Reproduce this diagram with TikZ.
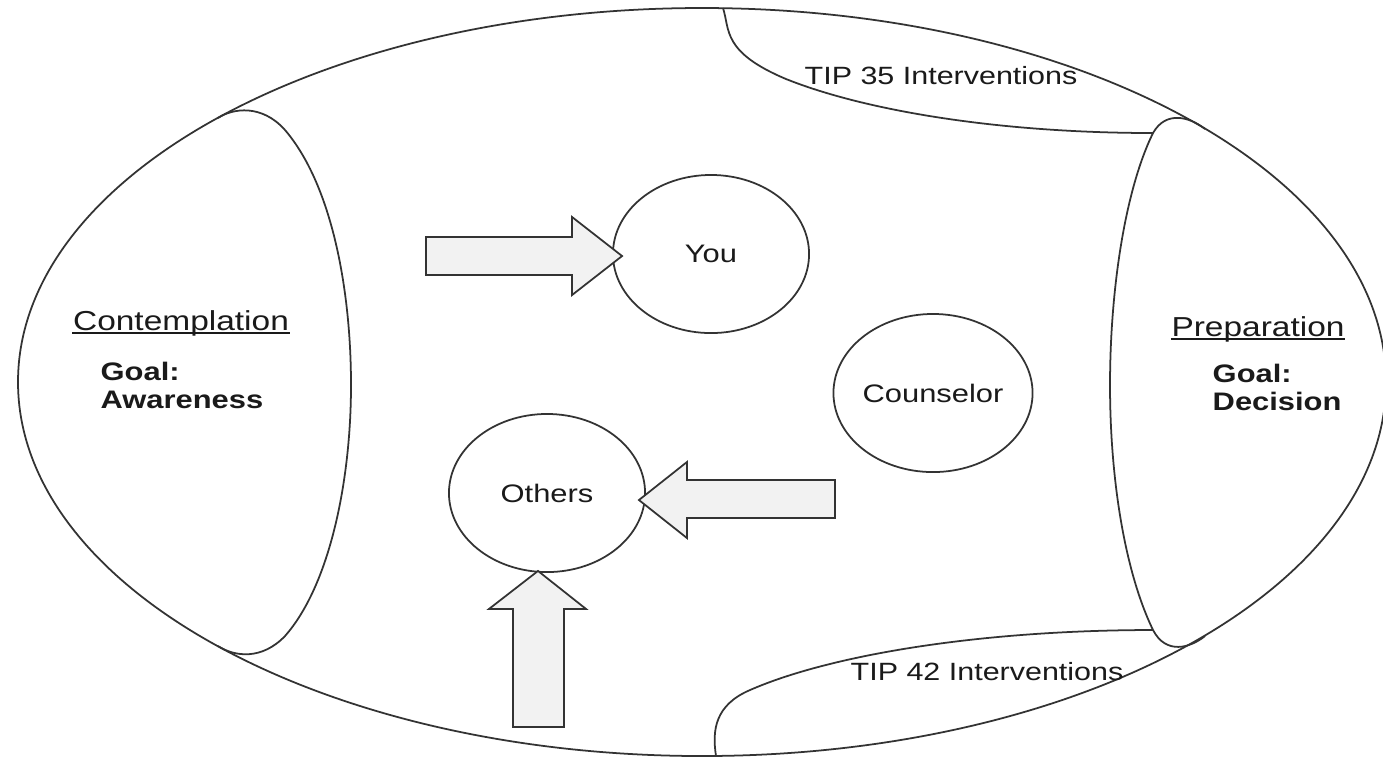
\documentclass[tikz,border=0pt]{standalone}
\usepackage{fontspec}
\setmainfont[FakeStretch=1.22]{Liberation Sans}
\usetikzlibrary{shapes.geometric,calc}
\definecolor{linec}{HTML}{333333}
\definecolor{arrowfill}{HTML}{F2F2F2}
\definecolor{textc}{HTML}{1A1A1A}
\tikzset{
  outline/.style={draw=linec, line width=0.5pt},
  bubble/.style={ellipse, draw=linec, line width=0.5pt, minimum width=1.96cm, minimum height=1.58cm, inner sep=0pt, font=\fontsize{7.2}{8.6}\selectfont, text=textc},
  blockarrow/.style={draw=linec, fill=arrowfill, line width=0.5pt, line join=miter},
  tiplabel/.style={font=\fontsize{7.1}{8.6}\selectfont, text=textc, inner sep=0pt},
  stagetitle/.style={font=\fontsize{7.8}{9}\selectfont, text=textc, inner sep=0pt},
  titlerule/.style={draw=textc, line width=0.45pt},
  goaltext/.style={font=\fontsize{7.2}{8}\selectfont\bfseries, text=textc, inner sep=0pt, align=left},
}
\begin{document}
\begin{tikzpicture}[x=0.01cm,y=-0.01cm]
\useasboundingbox (0,0) rectangle (1383,756);
\clip (0,0) rectangle (1383,756);
\fill[white] (0,0) rectangle (1383,756);
% outer ellipse
\draw[outline] (702,382) ellipse [x radius=684, y radius=374];
% left lens (Contemplation)
\draw[outline] (218,118) .. controls (233,108) and (262,104) .. (285,130)
  .. controls (332,185) and (351,290) .. (351,385)
  .. controls (351,480) and (330,585) .. (285,636)
  .. controls (262,660) and (235,657) .. (218,646);
% right lens (Preparation)
\draw[outline] (1205,129) .. controls (1190,117) and (1166,110) .. (1153,133)
  .. controls (1125,190) and (1110,290) .. (1110,385)
  .. controls (1110,480) and (1125,572) .. (1153,630)
  .. controls (1166,655) and (1190,648) .. (1205,636);
% TIP 35 region
\draw[outline] (723,8) .. controls (730,30) and (722,52) .. (786,79)
  .. controls (866,111) and (1000,133) .. (1153,133);
% TIP 42 region
\draw[outline] (716,756) .. controls (712,730) and (715,705) .. (750,690)
  .. controls (830,655) and (980,630) .. (1153,630);
% bubbles
\node[bubble] (you) at (711,254) {You};
\node[bubble] (counselor) at (933,393) {Counselor};
\node[bubble] (others) at (547,493) {Others};
% block arrows
\draw[blockarrow] ($(you.west)+(10,2)$) -- ++(-50,-39) -- ++(0,20) -- ++(-146,0) -- ++(0,38) -- ++(146,0) -- ++(0,20) -- cycle;
\draw[blockarrow] ($(others.east)+(-7,7)$) -- ++(48,-38) -- ++(0,18) -- ++(148,0) -- ++(0,38) -- ++(-148,0) -- ++(0,20) -- cycle;
\draw[blockarrow] ($(others.south)+(-9,-2)$) -- ++(-49,38) -- ++(24,0) -- ++(0,118) -- ++(51,0) -- ++(0,-118) -- ++(22,0) -- cycle;
% labels
\node[tiplabel] (tip35) at (941,76) {TIP 35 Interventions};
\node[tiplabel] (tip42) at (987,672) {TIP 42 Interventions};
\node[stagetitle, anchor=base] (contemp) at (181,330) {Contemplation};
\draw[titlerule] ($(contemp.base west)+(0,3)$) -- ($(contemp.base east)+(0,3)$);
\node[goaltext, anchor=north west] (goalA) at (100,361) {Goal:\\Awareness};
\node[stagetitle, anchor=base] (prep) at (1258,336) {Preparation};
\draw[titlerule] ($(prep.base west)+(0,3)$) -- ($(prep.base east)+(0,3)$);
\node[goaltext, anchor=north west] (goalD) at (1212,363) {Goal:\\Decision};
\end{tikzpicture}
\end{document}
